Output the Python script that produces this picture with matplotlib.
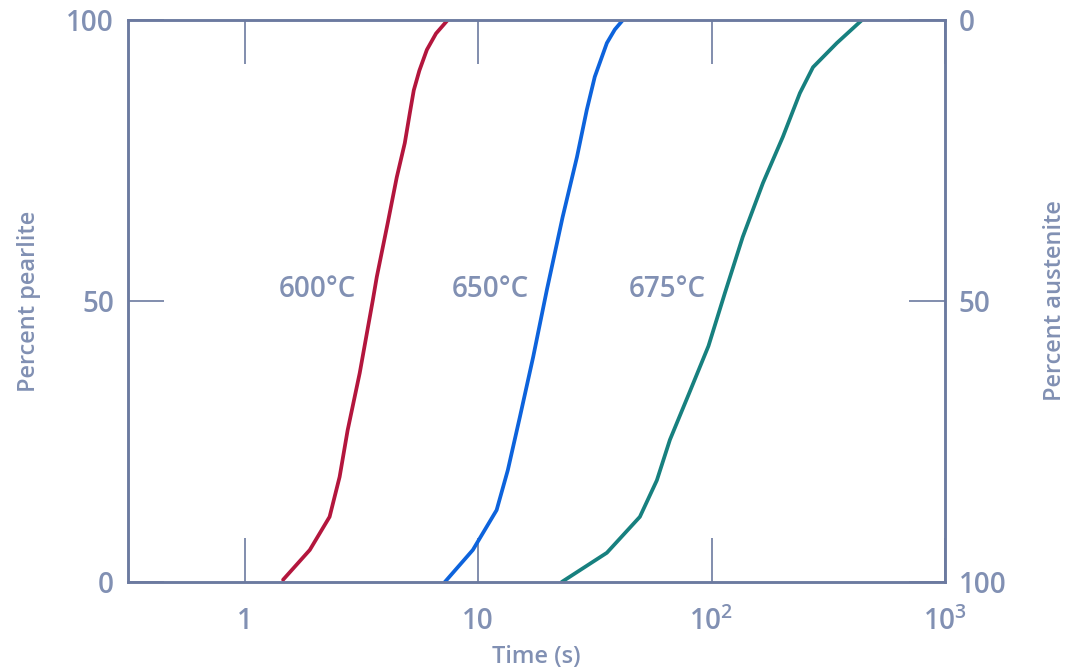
import matplotlib
matplotlib.use("Agg")
import matplotlib.pyplot as plt

plt.rcParams['font.family'] = ['Open Sans', 'DejaVu Sans']
plt.rcParams['font.weight'] = 600
plt.rcParams['axes.labelweight'] = 600
plt.rcParams['mathtext.default'] = 'regular'

# Data (time in s, percent pearlite)
t_600 = [1.46, 1.90, 2.31, 2.55, 2.76, 3.11, 3.54, 3.68, 4.10, 4.48, 4.85, 5.10, 5.30, 5.60, 6.03, 6.60, 7.41]
p_600 = [0.4, 5.7, 11.6, 18.7, 27.0, 37.2, 50.2, 54.3, 63.9, 72.0, 78.1, 83.5, 87.5, 91.0, 94.7, 97.6, 100]

t_650 = [7.20, 9.49, 12.0, 13.4, 15.1, 17.2, 19.7, 23.0, 26.5, 29.2, 31.6, 35.6, 38.5, 41.7]
p_650 = [0.0, 5.7, 12.8, 19.9, 29.4, 40.0, 52.0, 64.9, 75.6, 84.0, 89.9, 95.9, 98.3, 100]

t_675 = [22.8, 35.6, 49.3, 58.3, 66.3, 80.0, 97.0, 114, 136, 166, 202, 239, 272, 344, 441]
p_675 = [0.0, 5.2, 11.6, 18.1, 25.3, 33.5, 42.0, 51.4, 61.4, 71.0, 79.2, 87.0, 91.6, 95.9, 100]

curve_labels = ['600°C', '650°C', '675°C']
label_t = [2.05, 11.3, 64.4]
label_p = [52, 52, 52]

x_ticks = [1, 10, 100, 1000]
x_ticklabels = ['1', '10', '$10^2$', '$10^3$']
y_ticks = [0, 50, 100]
y_ticklabels_left = ['0', '50', '100']
y_ticks_right = [100, 50, 0]
y_ticklabels_right = ['100', '50', '0']

text_c = '#8190b3'
axis_c = '#6c7aa0'

fig = plt.figure(figsize=(10.7, 6.72), dpi=100)
ax = fig.add_axes([128/1070, 90/672, (945-128)/1070, (582-20)/672])

for tt, pp, col in [(t_600, p_600, '#b3163d'), (t_650, p_650, '#0d63dc'), (t_675, p_675, '#17807f')]:
    ax.plot(tt, pp, color=col, lw=2.7, solid_capstyle='round', solid_joinstyle='round')

for lab, xt, yp in zip(curve_labels, label_t, label_p):
    ax.text(xt, yp, lab, color=text_c, fontsize=20, ha='center', va='center')

ax.set_xscale('log')
ax.set_xlim(10**-0.5, 1000)
ax.set_ylim(0, 100)
ax.set_xticks(x_ticks)
ax.set_xticklabels(x_ticklabels)
ax.xaxis.set_minor_locator(matplotlib.ticker.NullLocator())
ax.set_yticks(y_ticks)
ax.set_yticklabels(y_ticklabels_left)

for s in ax.spines.values():
    s.set_color(axis_c)
    s.set_linewidth(1.8)

ax.tick_params(axis='x', which='major', direction='in', length=32, width=1.2,
               color=axis_c, labelcolor=text_c, labelsize=20, pad=18, top=True)
ax.tick_params(axis='y', which='major', direction='in', length=26, width=1.2,
               color=axis_c, labelcolor=text_c, labelsize=20, pad=10)

ax2 = ax.twinx()
ax2.set_ylim(100, 0)
ax2.set_yticks(y_ticks_right)
ax2.set_yticklabels(y_ticklabels_right)
for s in ax2.spines.values():
    s.set_color(axis_c)
    s.set_linewidth(1.8)
ax2.tick_params(axis='y', direction='in', length=26, width=1.2,
                color=axis_c, labelcolor=text_c, labelsize=20, pad=10)

ax.set_xlabel('Time (s)', color=text_c, fontsize=17, fontweight=600, labelpad=6)
ax.set_ylabel('Percent pearlite', color=text_c, fontsize=17, fontweight=600, labelpad=18)
ax2.set_ylabel('Percent austenite', color=text_c, fontsize=17, fontweight=600, labelpad=26)

fig.savefig('out.png', dpi=100)
